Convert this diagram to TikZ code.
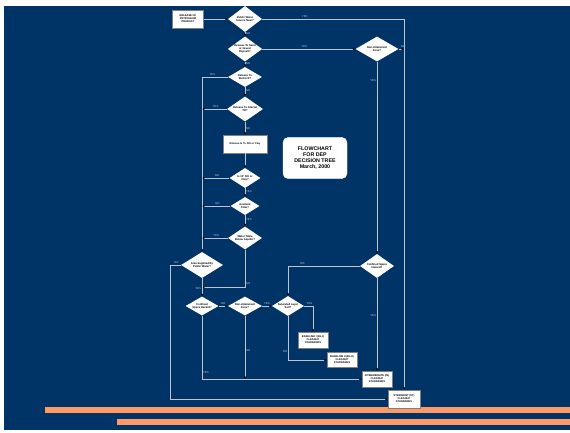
\documentclass[tikz,border=0pt]{standalone}
\usepackage{fontspec}
\setmainfont{Liberation Sans}
\usetikzlibrary{arrows.meta,positioning,calc,shapes.geometric}
\definecolor{bgblue}{RGB}{0,51,102}
\definecolor{lineclr}{RGB}{190,196,208}
\definecolor{barorange}{RGB}{255,153,102}

\begin{document}
\begin{tikzpicture}[
  x=1pt, y=-1pt,
  arr/.style={-{Latex[length=2.4pt,width=2pt,color=black]}, draw=lineclr, line width=0.45pt},
  lbl/.style={font=\fontsize{2.8}{3.2}\selectfont, text=lineclr, inner sep=0.8pt},
  dec/.style={diamond, fill=white, align=center, inner sep=0pt, shape aspect=1.5,
              font=\fontsize{2.7}{3.1}\selectfont\bfseries, minimum width=34pt, minimum height=20pt},
  blk/.style={draw=gray, fill=white, align=center, inner sep=1pt,
              font=\fontsize{2.6}{3.0}\selectfont\bfseries}
]
  \useasboundingbox (0,0) rectangle (570,433);
  \fill[bgblue] (4,6) rectangle (570,430);
  \fill[barorange] (45,407) rectangle (570,413);
  \fill[barorange] (117,419) rectangle (570,425);

  % main column
  \node[blk, minimum width=31pt, minimum height=18pt] (rel) at (188,19) {RELEASE OF\\PETROLEUM\\PRODUCT};
  \node[dec, minimum height=26pt] (pws) at (245,19) {Public Water\\Source Near?};
  \node[dec, minimum height=25pt] (sgd) at (245,49) {Release To Sand\\or Gravel\\Deposit?};
  \node[dec, minimum width=43pt, minimum height=25pt] (nat) at (377,49) {Non-Attainment\\Zone?};
  \node[dec] (bed) at (245,77) {Release To\\Bedrock?};
  \node[dec, minimum width=36pt, minimum height=25pt] (till) at (245,109) {Release To Glacial\\Till?};
  \node[blk, minimum width=44pt, minimum height=18pt] (silt) at (245,144) {Release Is To Silt or Clay};
  \node[dec, minimum width=31pt] (ten) at (245,178) {Is 10' Silt or\\Clay?};
  \node[dec, minimum width=29pt, minimum height=18pt] (flow) at (245,206) {Gradient\\Flow?};
  \node[dec, minimum height=23pt] (wtb) at (245,238) {Water Table\\Below Aquifer?};
  \node[dec, minimum width=42pt, minimum height=26pt] (asp) at (202,265) {Area Supplied By\\Public Water?};

  \node[draw=white, fill=white, rounded corners=5pt, align=center, minimum width=64pt, minimum height=41pt,
        font=\fontsize{5.3}{6.2}\selectfont\bfseries] (title) at (315,158)
    {FLOWCHART\\FOR DEP\\DECISION TREE\\March, 2000};

  % bottom row
  \node[dec, minimum width=33pt, minimum height=19pt] (csl) at (202,306) {Confined\\Space Hazard?};
  \node[dec, minimum height=19pt] (nab) at (245,306) {Non-Attainment\\Zone?};
  \node[dec, minimum width=32pt] (sat) at (288,306) {Saturated Layer\\Soil?};
  \node[dec, minimum height=24pt] (csr) at (377,266) {Confined Space\\Hazard?};

  \node[blk, minimum width=30pt, minimum height=16pt] (bl1) at (313,340) {BASELINE I (BL-I)\\CLEANUP\\STANDARDS};
  \node[blk, minimum width=30pt, minimum height=15pt] (bl2) at (342,360) {BASELINE II (BL-II)\\CLEANUP\\STANDARDS};
  \node[blk, minimum width=30pt, minimum height=16pt] (inter) at (377,379) {INTERMEDIATE (IN)\\CLEANUP\\STANDARDS};
  \node[blk, minimum width=32pt, minimum height=18pt] (strg) at (404,399) {STRINGENT (ST)\\CLEANUP\\STANDARDS};

  \draw[arr] (rel) -- (pws);
  \draw[arr] (pws.east) -| node[lbl, above, pos=0.15] {YES} (strg.north);
  \draw[arr] (pws) -- node[lbl, right, pos=0.4] {NO} (sgd);
  \draw[arr] (sgd) -- node[lbl, above, pos=0.45] {YES} (nat);
  \draw[arr] (nat.east) -- node[lbl, above right, pos=0.2] {NO} (nat.east -| strg.north);
  \draw[arr] (nat) -- node[lbl, left, pos=0.1] {YES} (csr);
  \draw[arr] (sgd) -- node[lbl, right, pos=0.3] {NO} (bed);
  \draw[arr] (bed.west) -| node[lbl, above, pos=0.3] {YES} (asp.north);
  \draw[arr] (bed) -- node[lbl, right, pos=0.4] {NO} (till);
  \draw[arr] (till.west) -- node[lbl, above, pos=0.45] {YES} (till.west -| asp.north);
  \draw[arr] (till) -- node[lbl, right, pos=0.5] {NO} (silt);
  \draw[arr] (silt) -- (ten);
  \draw[arr] (ten.west) -- node[lbl, above, pos=0.45] {NO} (ten.west -| asp.north);
  \draw[arr] (ten) -- node[lbl, right, pos=0.4] {YES} (flow);
  \draw[arr] (flow.west) -- node[lbl, above, pos=0.45] {NO} (flow.west -| asp.north);
  \draw[arr] (flow) -- node[lbl, right, pos=0.4] {YES} (wtb);
  \draw[arr] (wtb.west) -- node[lbl, above, pos=0.45] {YES} (wtb.west -| asp.north);

  \coordinate (jn) at ($(asp.south)!0.5!(csl.north)$);
  \draw[arr] (wtb.south) |- node[lbl, right, pos=0.45] {NO} (jn);
  \draw[arr] (asp) -- node[lbl, left, pos=0.55] {YES} (csl);
  \draw[arr] (asp.west) -- node[lbl, above, pos=0.4] {NO} ++(-11,0) |- (strg.west);

  \draw[arr] (csl) -- node[lbl, above, pos=0.5] {NO} (nab);
  \draw[arr] (csl.south) |- node[lbl, right, pos=0.45] {YES} (inter.west);
  \draw[arr] (nab.south) -- node[lbl, right, pos=0.55] {NO} (nab.south |- inter.west);
  \draw[arr] (nab) -- node[lbl, above, pos=0.5] {YES} (sat);
  \draw[arr] (csr.west) -| node[lbl, above, pos=0.4] {NO} (sat.north);
  \draw[arr] (csr) -- node[lbl, left, pos=0.4] {YES} (inter);
  \draw[arr] (sat.east) -| node[lbl, above, pos=0.3] {YES} (bl1.north);
  \draw[arr] (sat.south) |- node[lbl, left, pos=0.4] {NO} (bl2.west);
\end{tikzpicture}
\end{document}
